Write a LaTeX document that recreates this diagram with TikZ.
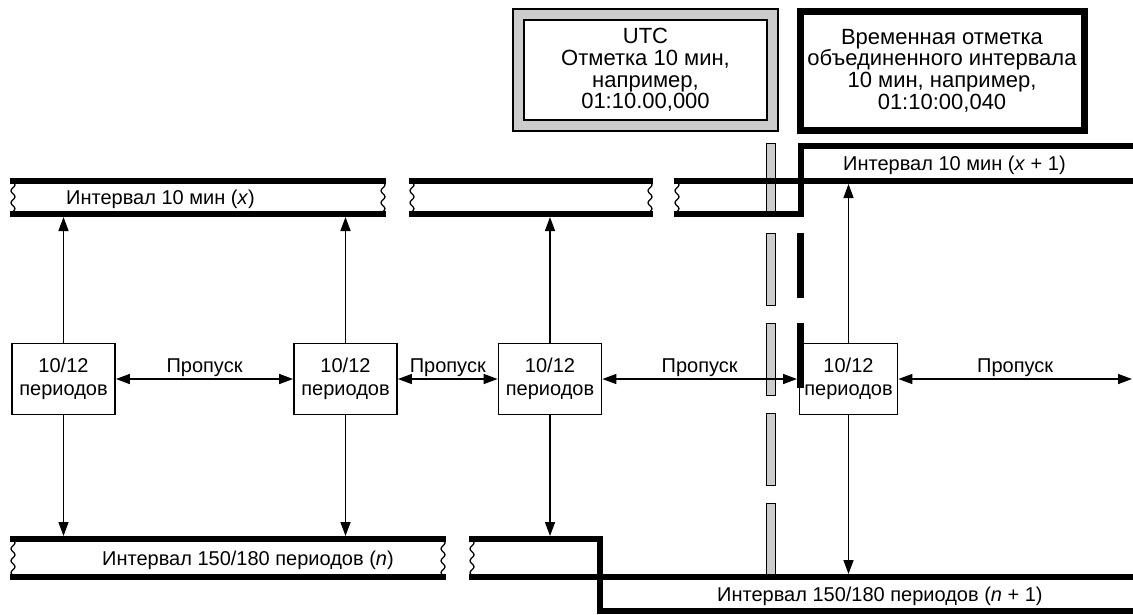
\documentclass[tikz,border=0pt]{standalone}
\usepackage{fontspec}
\setmainfont{Liberation Sans}
\usetikzlibrary{arrows.meta,decorations.pathmorphing,backgrounds}
\begin{document}
\begin{tikzpicture}[x=1pt,y=-1pt,
  every node/.style={font=\fontsize{20}{23}\selectfont, inner sep=0pt},
  band/.style={line width=6pt, line join=miter, line cap=rect},
  wavy/.style={line width=1.3pt, decorate, decoration={snake, amplitude=2pt, segment length=12pt}},
  perbox/.style={draw, line width=1.8pt, minimum width=103pt, minimum height=71pt, align=center},
  topfont/.style={font=\fontsize{22}{21.7}\selectfont},
  tip/.tip={Triangle[length=14pt,width=10pt]},
  arr/.style={line width=1.5pt, -tip},
  darr/.style={line width=1.5pt, tip-tip},
  graybar/.style={draw, line width=1pt, fill=black!20},
  blackbar/.style={fill=black},
  skiplabel/.style={anchor=base, yshift=7pt}
]
\useasboundingbox (0,0) rectangle (1133,614);

% ---- top boxes
\node[draw, line width=2pt, fill=white, minimum width=243pt, minimum height=100pt, align=center,
      topfont] (utc) at (645.5,70) {UTC\\Отметка 10 мин,\\например,\\01:10.00,000};
\begin{scope}[on background layer]
  \draw[line width=1.2pt, fill=black!20] ([shift={(-10,-10)}]utc.north west) rectangle ([shift={(10,10)}]utc.south east);
\end{scope}
\node[draw, line width=7pt, minimum width=284pt, minimum height=119pt, align=center,
      topfont] (ts) at (942,70.5) {Временная отметка\\объединенного интервала\\10 мин, например,\\01:10:00,040};

% ---- gray dashed bar
\foreach \t/\b in {143/215,233/305,323/395,413/485,503/577}{
  \draw[graybar] (766,\t) rectangle (775,\b);
}
% ---- black dashed bar
\fill[blackbar] (797,233) rectangle (804,298);
\fill[blackbar] (797,323) rectangle (804,388);

% ---- band x (10 min) segments
\draw[band] (13,181) -- (383,181);
\draw[band] (13,214) -- (383,214);
\draw[wavy] (13,181) -- (13,214);
\draw[wavy] (383,181) -- (383,214);
\draw[band] (412,181) -- (650,181);
\draw[band] (412,214) -- (650,214);
\draw[wavy] (412,181) -- (412,214);
\draw[wavy] (650,181) -- (650,214);
\draw[band] (677,181) -- (1136,181);
\draw[band] (677,214) -- (800.5,214) -- (800.5,146) -- (1136,146);
\draw[wavy] (677,181) -- (677,214);
\coordinate (xbot) at (0,217);
\coordinate (xtop) at (0,184);

% ---- band n (150/180 periods)
\draw[band] (13,539) -- (443,539);
\draw[band] (13,577) -- (443,577);
\draw[wavy] (13,539) -- (13,577);
\draw[wavy] (443,539) -- (443,577);
\draw[band] (472,539) -- (600,539) -- (600,611) -- (1136,611);
\draw[band] (472,577) -- (1136,577);
\draw[wavy] (472,539) -- (472,577);
\coordinate (ntop) at (0,536);
\coordinate (nnext) at (0,574);

% ---- band labels
\node[anchor=base west] (lx) at (66,204.5) {Интервал 10 мин (\textit{x})};
\node[anchor=base west] (lx1) at (843,170.5) {Интервал 10 мин (\textit{x} + 1)};
\node[anchor=base west] (ln) at (102,565) {Интервал 150/180 периодов (\textit{n})};
\node[anchor=base west] (ln1) at (717,601) {Интервал 150/180 периодов (\textit{n} + 1)};

% ---- period boxes
\node[perbox] (b1) at (63.5,379) {10/12\\периодов};
\node[perbox] (b2) at (345.5,379) {10/12\\периодов};
\node[perbox] (b3) at (550,379) {10/12\\периодов};
\node[perbox, minimum width=98pt] (b4) at (848.5,379) {10/12\\периодов};

\coordinate (bb) at (797,379);
\coordinate (redge) at (1132,379);

% ---- skip arrows
\draw[darr] (b1.east) -- node[skiplabel] (s1) {Пропуск} (b2.west);
\draw[darr] (b2.east) -- node[skiplabel] (s2) {Пропуск} (b3.west);
\draw[darr] (b3.east) -- node[skiplabel] (s3) {Пропуск} (bb);
\draw[darr] (b4.east) -- node[skiplabel] (s4) {Пропуск} (redge);

% ---- vertical arrows
\draw[arr] (b1.north) -- (b1.north |- xbot);
\draw[arr] (b2.north) -- (b2.north |- xbot);
\draw[arr] (b3.north) -- (b3.north |- xbot);
\draw[arr] (b4.north) -- (b4.north |- xtop);
\draw[arr] (b1.south) -- (b1.south |- ntop);
\draw[arr] (b2.south) -- (b2.south |- ntop);
\draw[arr] (b3.south) -- (b3.south |- ntop);
\draw[arr] (b4.south) -- (b4.south |- nnext);
\end{tikzpicture}
\end{document}
